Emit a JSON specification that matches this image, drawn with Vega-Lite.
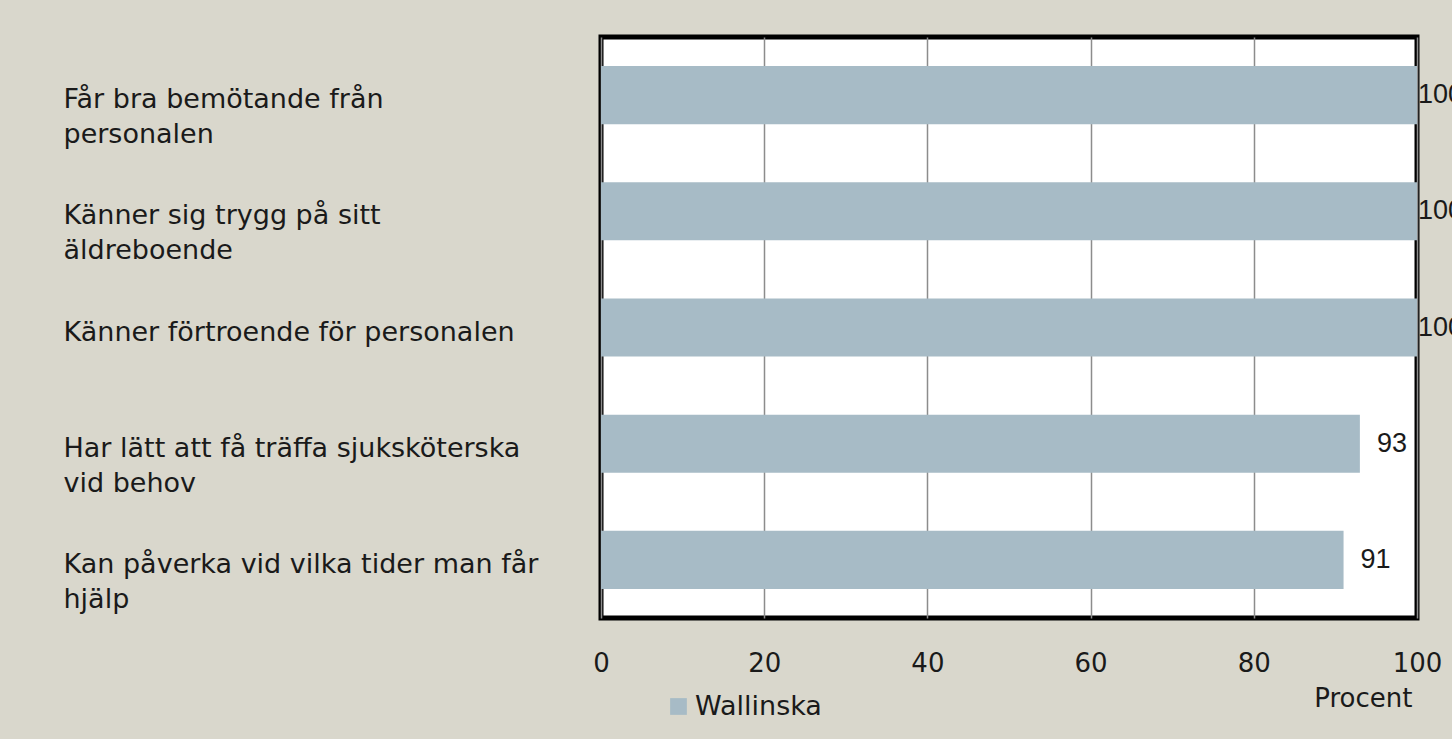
{
  "$schema": "https://vega.github.io/schema/vega-lite/v6.json",
  "autosize": {"type": "none"},
  "padding": {"left": 601, "top": 37, "right": 35, "bottom": 121},
  "width": 816,
  "height": 581,
  "background": "#d9d7cc",
  "config": {
    "view": {"fill": "white", "stroke": "black", "strokeWidth": 5},
    "font": "DejaVu Sans"
  },
  "data": {
    "values": [
      {"fraga": "Får bra bemötande från\npersonalen", "procent": 100, "serie": "Wallinska"},
      {"fraga": "Känner sig trygg på sitt\näldreboende", "procent": 100, "serie": "Wallinska"},
      {"fraga": "Känner förtroende för personalen", "procent": 100, "serie": "Wallinska"},
      {"fraga": "Har lätt att få träffa sjuksköterska\nvid behov", "procent": 93, "serie": "Wallinska"},
      {"fraga": "Kan påverka vid vilka tider man får\nhjälp", "procent": 91, "serie": "Wallinska"}
    ]
  },
  "encoding": {
    "y": {
      "field": "fraga",
      "type": "nominal",
      "sort": null,
      "scale": {"paddingInner": 0.5, "paddingOuter": 0.25},
      "axis": {
        "title": null,
        "domain": false,
        "ticks": false,
        "tickSize": 0,
        "grid": false,
        "labelAlign": "left",
        "labelBaseline": "alphabetic",
        "labelOffset": 13,
        "labelPadding": 538,
        "labelLimit": 700,
        "labelFont": "DejaVu Sans",
        "labelFontSize": 27,
        "labelLineHeight": 35,
        "labelColor": "#1a1a1a",
        "labelExpr": "split(datum.value, '\\n')"
      }
    },
    "x": {
      "field": "procent",
      "type": "quantitative",
      "scale": {"domain": [0, 100], "nice": false},
      "axis": {
        "values": [0, 20, 40, 60, 80, 100],
        "title": "Procent",
        "titleFont": "DejaVu Sans",
        "titleFontSize": 26,
        "titleFontWeight": "normal",
        "titleColor": "#1a1a1a",
        "titleAlign": "right",
        "titleAnchor": null,
        "titleBaseline": "alphabetic",
        "titleX": 811,
        "titleY": 88,
        "domain": false,
        "ticks": false,
        "tickSize": 0,
        "labelPadding": 32,
        "labelFont": "DejaVu Sans",
        "labelFontSize": 26,
        "labelColor": "#1a1a1a",
        "labelBaseline": "top",
        "labelFlush": false,
        "grid": true,
        "gridColor": "#8c8c8c",
        "gridWidth": 1.5
      }
    }
  },
  "layer": [
    {
      "mark": {"type": "bar"},
      "encoding": {
        "color": {
          "field": "serie",
          "type": "nominal",
          "scale": {"range": ["#a7bbc6"]},
          "legend": {
            "title": null,
            "orient": "none",
            "legendX": 64,
            "legendY": 656,
            "padding": 0,
            "symbolType": "square",
            "symbolSize": 280,
            "symbolStrokeWidth": 0,
            "labelFont": "DejaVu Sans",
            "labelFontSize": 27,
            "labelColor": "#1a1a1a",
            "labelOffset": 3
          }
        }
      }
    },
    {
      "transform": [{"filter": "datum.procent >= 100"}],
      "mark": {"type": "text", "align": "left", "baseline": "middle", "dx": 1, "font": "Liberation Sans", "fontSize": 27, "color": "#1a1a1a"},
      "encoding": {"text": {"field": "procent", "type": "quantitative"}}
    },
    {
      "transform": [{"filter": "datum.procent < 100"}],
      "mark": {"type": "text", "align": "left", "baseline": "middle", "dx": 17, "font": "Liberation Sans", "fontSize": 27, "color": "#1a1a1a"},
      "encoding": {"text": {"field": "procent", "type": "quantitative"}}
    }
  ]
}
